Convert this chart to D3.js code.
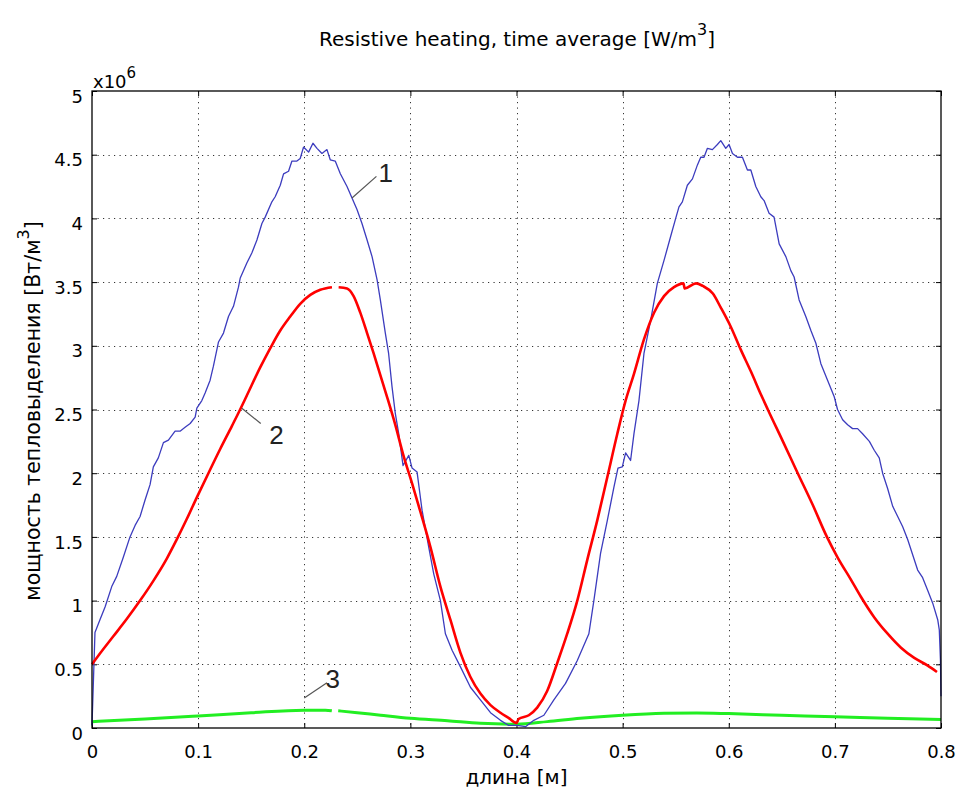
<!DOCTYPE html>
<html>
<head>
<meta charset="utf-8">
<script src="https://cdn.jsdelivr.net/npm/d3@7"></script>
<style>
  html, body { margin: 0; padding: 0; background: #fff; }
  svg { display: block; }
</style>
</head>
<body>
<svg id="chart" width="960" height="792"></svg>
<script>
// ---------- data (x in m, y in units of 10^6 W/m^3) ----------
const titleText = "Resistive heating, time average [W/m";
const xLabelText = "длина [м]";
const yLabelText = "мощность тепловыделения [Вт/м";
const xTicks = [0, 0.1, 0.2, 0.3, 0.4, 0.5, 0.6, 0.7, 0.8];
const xTickLabels = ["0", "0.1", "0.2", "0.3", "0.4", "0.5", "0.6", "0.7", "0.8"];
const yTicks = [0, 0.5, 1, 1.5, 2, 2.5, 3, 3.5, 4, 4.5, 5];
const yTickLabels = ["0", "0.5", "1", "1.5", "2", "2.5", "3", "3.5", "4", "4.5", "5"];

// curve 1 (blue)
const blueX = [0.000, 0.0028, 0.0075, 0.0123, 0.0186, 0.0233, 0.0295, 0.0358, 0.0406, 0.0453, 0.050, 0.0547, 0.0578, 0.0625, 0.0673, 0.072, 0.0783, 0.083, 0.0877, 0.0925, 0.0972, 0.0988, 0.1035, 0.1066, 0.1113, 0.1144, 0.1192, 0.1239, 0.1286, 0.1333, 0.138, 0.1396, 0.1459, 0.1507, 0.1554, 0.1601, 0.1632, 0.1695, 0.1726, 0.1774, 0.1805, 0.1852, 0.1884, 0.1931, 0.1962, 0.1993, 0.2041, 0.2082, 0.212, 0.2167, 0.2214, 0.2245, 0.2292, 0.234, 0.2403, 0.245, 0.2497, 0.2544, 0.2592, 0.2639, 0.2686, 0.2717, 0.2764, 0.2795, 0.2827, 0.2858, 0.289, 0.2931, 0.2985, 0.3016, 0.3063, 0.311, 0.3173, 0.322, 0.3283, 0.333, 0.3393, 0.3472, 0.3566, 0.366, 0.3755, 0.3849, 0.3927, 0.4007, 0.4085, 0.4163, 0.4258, 0.4352, 0.4462, 0.4573, 0.4682, 0.4729, 0.4792, 0.4856, 0.4918, 0.4956, 0.4997, 0.5028, 0.5075, 0.5107, 0.5154, 0.5201, 0.5264, 0.5327, 0.539, 0.5453, 0.55, 0.5531, 0.5563, 0.561, 0.5658, 0.5705, 0.5736, 0.5767, 0.5799, 0.5846, 0.5893, 0.5925, 0.5972, 0.6003, 0.6035, 0.6082, 0.6129, 0.6176, 0.6208, 0.6255, 0.6302, 0.6333, 0.638, 0.6427, 0.6475, 0.6538, 0.6585, 0.6616, 0.6663, 0.6726, 0.6774, 0.6821, 0.6868, 0.6931, 0.6994, 0.7025, 0.7073, 0.712, 0.7167, 0.7214, 0.7261, 0.7325, 0.7371, 0.7418, 0.745, 0.7497, 0.7545, 0.7592, 0.7639, 0.7686, 0.7733, 0.778, 0.7827, 0.7875, 0.7922, 0.7969, 0.7984, 0.7995, 0.800];
const blueY = [0.02, 0.75, 0.85, 0.95, 1.11, 1.19, 1.34, 1.50, 1.59, 1.66, 1.79, 1.91, 2.05, 2.12, 2.24, 2.26, 2.33, 2.33, 2.36, 2.39, 2.44, 2.51, 2.57, 2.63, 2.73, 2.84, 3.03, 3.10, 3.23, 3.31, 3.46, 3.53, 3.65, 3.73, 3.83, 3.96, 4.01, 4.13, 4.17, 4.26, 4.35, 4.37, 4.45, 4.45, 4.47, 4.56, 4.52, 4.59, 4.55, 4.51, 4.54, 4.46, 4.45, 4.35, 4.25, 4.16, 4.07, 3.96, 3.83, 3.70, 3.52, 3.36, 3.10, 2.94, 2.68, 2.47, 2.31, 2.06, 2.14, 2.04, 2.01, 1.71, 1.42, 1.21, 1.00, 0.74, 0.61, 0.48, 0.32, 0.22, 0.12, 0.06, 0.02, 0.02, 0.01, 0.06, 0.10, 0.22, 0.35, 0.53, 0.74, 1.00, 1.37, 1.63, 1.89, 2.04, 2.05, 2.16, 2.10, 2.31, 2.57, 2.94, 3.20, 3.49, 3.67, 3.86, 4.00, 4.09, 4.13, 4.26, 4.31, 4.42, 4.48, 4.48, 4.55, 4.54, 4.58, 4.61, 4.55, 4.58, 4.51, 4.48, 4.48, 4.38, 4.38, 4.25, 4.17, 4.14, 4.04, 4.01, 3.80, 3.70, 3.59, 3.54, 3.36, 3.23, 3.12, 3.02, 2.86, 2.73, 2.60, 2.50, 2.42, 2.38, 2.35, 2.35, 2.31, 2.25, 2.18, 2.12, 2.00, 1.88, 1.74, 1.66, 1.58, 1.48, 1.36, 1.24, 1.18, 1.08, 0.98, 0.85, 0.77, 0.53, 0.25];

// curve 2 (red); null = small gap in the drawn line
const redX = [0, 0.0075, 0.0201, 0.0327, 0.0453, 0.0578, 0.0705, 0.0799, 0.0893, 0.0988, 0.1097, 0.1208, 0.1318, 0.1396, 0.1459, 0.1585, 0.1679, 0.1774, 0.1868, 0.1962, 0.2057, 0.2151, 0.2261, 0.2290, 0.2324, 0.2403, 0.2465, 0.2528, 0.2592, 0.2654, 0.2717, 0.278, 0.2858, 0.2931, 0.3016, 0.3097, 0.3189, 0.3283, 0.3377, 0.3472, 0.3566, 0.366, 0.3755, 0.3849, 0.3925, 0.4000, 0.402, 0.4116, 0.4195, 0.4289, 0.4384, 0.4478, 0.4573, 0.4667, 0.4761, 0.4856, 0.495, 0.5028, 0.5107, 0.5201, 0.5296, 0.539, 0.5484, 0.5573, 0.5585, 0.5692, 0.5755, 0.585, 0.5925, 0.6019, 0.6113, 0.6208, 0.6302, 0.6368, 0.651, 0.665, 0.6792, 0.6925, 0.7025, 0.7151, 0.7245, 0.737, 0.7497, 0.7623, 0.7748, 0.7875, 0.7962];
const redY = [0.50, 0.585, 0.72, 0.855, 1.00, 1.155, 1.33, 1.48, 1.64, 1.81, 2.00, 2.19, 2.37, 2.50, 2.61, 2.83, 2.98, 3.12, 3.23, 3.33, 3.40, 3.44, 3.46, null, 3.46, 3.45, 3.39, 3.26, 3.10, 2.94, 2.77, 2.60, 2.38, 2.15, 1.92, 1.69, 1.42, 1.11, 0.85, 0.59, 0.40, 0.27, 0.18, 0.12, 0.08, 0.04, 0.07, 0.10, 0.16, 0.29, 0.51, 0.74, 1.00, 1.32, 1.63, 1.97, 2.31, 2.57, 2.78, 3.05, 3.26, 3.39, 3.46, 3.49, 3.45, 3.49, 3.47, 3.41, 3.30, 3.15, 2.97, 2.80, 2.62, 2.50, 2.25, 2.00, 1.75, 1.50, 1.34, 1.165, 1.03, 0.87, 0.74, 0.63, 0.55, 0.49, 0.44];

// curve 3 (green)
const greenX = [0, 0.05, 0.1, 0.15, 0.2, 0.22, 0.226, 0.229, 0.232, 0.25, 0.272, 0.3, 0.335, 0.366, 0.4, 0.429, 0.46, 0.5, 0.539, 0.57, 0.6, 0.65, 0.7, 0.75, 0.8];
const greenY = [0.05, 0.07, 0.094, 0.12, 0.14, 0.14, 0.135, null, 0.135, 0.12, 0.10, 0.076, 0.057, 0.037, 0.03, 0.05, 0.076, 0.10, 0.115, 0.118, 0.113, 0.10, 0.088, 0.076, 0.066];

// annotations: leader line from (x1,y1) to (x2,y2), label at (lx,ly) in data units
const annLabels = ["1", "2", "3"];
const annX1 = [0.245, 0.1412, 0.200];
const annY1 = [4.16, 2.51, 0.235];
const annX2 = [0.268, 0.159, 0.2214];
const annY2 = [4.33, 2.39, 0.356];
const annLX = [0.270, 0.167, 0.220];
const annLY = [4.36, 2.30, 0.39];

// ---------- drawing ----------
const svg = d3.select("#chart");
const L = 92, R = 941, T = 91, B = 728;
const x = d3.scaleLinear().domain([0, 0.8]).range([L, R]);
const y = d3.scaleLinear().domain([0, 5]).range([B, T]);
const tickFont = "'DejaVu Sans', Verdana, sans-serif";

// grid
const grid = svg.append("g").attr("stroke", "#333").attr("stroke-width", 1).attr("stroke-dasharray", "1.2,4.3");
grid.selectAll("line.v").data(xTicks.slice(1, -1)).join("line")
  .attr("x1", d => Math.round(x(d)) + 0.5).attr("x2", d => Math.round(x(d)) + 0.5)
  .attr("y1", T).attr("y2", B);
grid.selectAll("line.h").data(yTicks.slice(1, -1)).join("line")
  .attr("y1", d => Math.round(y(d)) + 0.5).attr("y2", d => Math.round(y(d)) + 0.5)
  .attr("x1", L).attr("x2", R);

// axes via d3 axis generators (inner ticks)
const xAxisB = d3.axisBottom(x).tickValues(xTicks).tickSizeInner(-5).tickSizeOuter(0).tickFormat((d, i) => xTickLabels[i]).tickPadding(17);
const xAxisT = d3.axisTop(x).tickValues(xTicks).tickSizeInner(-5).tickSizeOuter(0).tickFormat("");
const yAxisL = d3.axisLeft(y).tickValues(yTicks).tickSizeInner(-5).tickSizeOuter(0).tickFormat((d, i) => yTickLabels[i]).tickPadding(9);
const yAxisR = d3.axisRight(y).tickValues(yTicks).tickSizeInner(-5).tickSizeOuter(0).tickFormat("");

function styleAxis(g) {
  g.select(".domain").remove();
  g.selectAll(".tick line").attr("stroke", "#000");
  g.selectAll(".tick text").attr("fill", "#000").style("font-family", tickFont).style("font-size", "18px");
}
svg.append("g").attr("transform", `translate(0,${B})`).call(xAxisB).call(styleAxis);
svg.append("g").attr("transform", `translate(0,${T})`).call(xAxisT).call(styleAxis);
svg.append("g").attr("transform", `translate(${L},0)`).call(yAxisL).call(styleAxis)
  .selectAll(".tick text").attr("dy", "0.62em");
svg.append("g").attr("transform", `translate(${R},0)`).call(yAxisR).call(styleAxis);

// series
const mk = (xs, ys) => xs.map((v, i) => [v, ys[i]]);
const line = d3.line().defined(d => d[1] !== null).x(d => x(d[0])).y(d => y(d[1]));
const smooth = d3.line().defined(d => d[1] !== null).x(d => x(d[0])).y(d => y(d[1])).curve(d3.curveMonotoneX);

const plot = svg.append("g");
plot.append("path").datum(mk(greenX, greenY)).attr("d", smooth)
  .attr("fill", "none").attr("stroke", "#22ee22").attr("stroke-width", 3).attr("stroke-linejoin", "round");
plot.append("path").datum(mk(blueX, blueY)).attr("d", line)
  .attr("fill", "none").attr("stroke", "#3c3cbe").attr("stroke-width", 1.3).attr("stroke-linejoin", "round");
plot.append("path").datum(mk(redX, redY)).attr("d", smooth)
  .attr("fill", "none").attr("stroke", "#ff0000").attr("stroke-width", 2.6).attr("stroke-linejoin", "round");

// box
svg.append("rect").attr("x", L).attr("y", T).attr("width", R - L).attr("height", B - T)
  .attr("fill", "none").attr("stroke", "#000").attr("stroke-width", 1.3);

// annotations
const ann = svg.append("g");
annLabels.forEach((lab, i) => {
  ann.append("line")
    .attr("x1", x(annX1[i])).attr("y1", y(annY1[i]))
    .attr("x2", x(annX2[i])).attr("y2", y(annY2[i]))
    .attr("stroke", "#555").attr("stroke-width", 1.2);
  ann.append("text").attr("x", x(annLX[i])).attr("y", y(annLY[i]))
    .attr("dy", "0.36em").attr("fill", "#222")
    .style("font-family", "'Liberation Sans', Arial, sans-serif").style("font-size", "26px")
    .text(lab);
});

// multiplier
const mult = svg.append("text").attr("x", L + 1).attr("y", T - 3)
  .style("font-family", tickFont).style("font-size", "18px").attr("fill", "#000");
mult.append("tspan").text("x10");
mult.append("tspan").attr("dy", -10).style("font-size", "15px").text("6");

// title
const title = svg.append("text").attr("x", 517).attr("y", 46).attr("text-anchor", "middle")
  .style("font-family", tickFont).style("font-size", "20px").attr("fill", "#000");
title.append("tspan").text(titleText);
title.append("tspan").attr("dy", -11).style("font-size", "16px").text("3");
title.append("tspan").attr("dy", 11).text("]");

// x label
svg.append("text").attr("x", x(0.4)).attr("y", 784).attr("text-anchor", "middle")
  .style("font-family", tickFont).style("font-size", "20px").attr("fill", "#000")
  .text(xLabelText);

// y label
const yl = svg.append("text").attr("transform", `translate(40,${411}) rotate(-90)`).attr("text-anchor", "middle")
  .style("font-family", tickFont).style("font-size", "20.5px").attr("fill", "#000");
yl.append("tspan").text(yLabelText);
yl.append("tspan").attr("dy", -11).style("font-size", "16px").text("3");
yl.append("tspan").attr("dy", 11).text("]");
</script>
</body>
</html>
